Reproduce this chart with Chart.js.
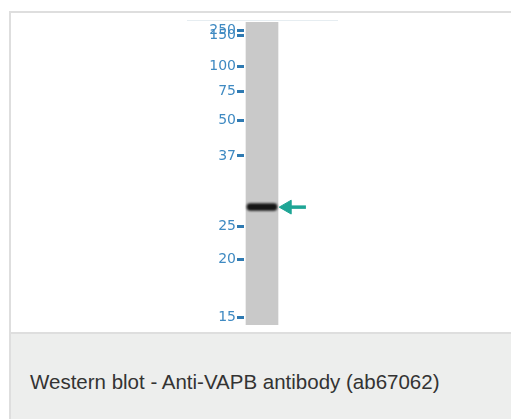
<!DOCTYPE html>
<html>
<head>
<meta charset="utf-8">
<script src="https://cdn.jsdelivr.net/npm/chart.js@4"></script>
<style>
  html, body { margin: 0; padding: 0; background: #fff; width: 511px; height: 419px; overflow: hidden; }
  #card { position: absolute; left: 9px; top: 11px; width: 600px; height: 500px; border: 2px solid #dedede; }
  #blot { height: 319px; background: #fff; border-bottom: 2px solid #dedede; }
  #caption { height: 200px; background: #edeeed; }
  #caption p { margin: 0; position: absolute; left: 19px; top: 357px; font: 20.5px "Liberation Sans", Arial, sans-serif; color: #333; }
  #frame-top { position: absolute; left: 187px; top: 20px; width: 151px; height: 1px; background: #e6edf1; }
  #chart { position: absolute; left: 0; top: 0; }
</style>
</head>
<body>
<div id="card">
  <div id="blot"></div>
  <div id="caption"><p>Western blot - Anti-VAPB antibody (ab67062)</p></div>
</div>
<div id="frame-top"></div>
<canvas id="chart" width="511" height="335"></canvas>
<script>
// marker ladder (kDa) and where each one ran, as relative migration (0 = top of lane, 1 = bottom)
const markerLabels = ["250", "150", "100", "75", "50", "37", "25", "20", "15"];
const markerRf = [0.028, 0.043, 0.147, 0.228, 0.325, 0.442, 0.675, 0.785, 0.974];

// one sample lane, one detected band
const lanes = [1];
const laneRange = [0, 1];
const bandTop = [0.599];
const bandBottom = [0.622];
const bandRf = 0.611;

// arrow pointing at the band (lane units on x)
const arrowHeadX = 1.7;
const arrowTailX = 2.22;

const blurPlugin = {
  id: "blur",
  beforeDatasetDraw: (chart, args) => {
    const ds = chart.data.datasets[args.index];
    chart.ctx.save();
    if (ds.blur) chart.ctx.filter = `blur(${ds.blur}px)`;
  },
  afterDatasetDraw: (chart) => {
    chart.ctx.restore();
  },
};

const get_chart_data = () => {
  return {
    datasets: [
      {
        type: "line",
        label: "arrow",
        data: [
          { x: arrowHeadX, y: bandRf },
          { x: arrowTailX, y: bandRf },
        ],
        borderColor: "#1ea595",
        borderWidth: 3.5,
        pointRadius: [8, 0],
        pointStyle: "triangle",
        rotation: 270,
        pointBackgroundColor: "#1ea595",
        pointBorderColor: "#1ea595",
        pointBorderWidth: 1,
        clip: false,
        blur: 0.5,
        order: 0,
      },
      {
        label: "band",
        data: lanes.map((x, i) => ({ x: x, y: [bandTop[i], bandBottom[i]] })),
        backgroundColor: "#151515",
        borderRadius: 4,
        borderSkipped: false,
        barThickness: 30,
        grouped: false,
        blur: 1.3,
        order: 1,
      },
      {
        label: "lane",
        data: lanes.map((x) => ({ x: x, y: laneRange })),
        backgroundColor: "#c9c9c9",
        barThickness: 32,
        grouped: false,
        blur: 0.5,
        order: 2,
      },
    ],
  };
};

const get_chart_config = (data) => {
  return {
    type: "bar",
    data: data,
    plugins: [blurPlugin],
    options: {
      responsive: false,
      devicePixelRatio: 1,
      animation: false,
      layout: { padding: { top: 22, left: 184, right: 159, bottom: 10 } },
      plugins: { legend: { display: false }, tooltip: { enabled: false } },
      scales: {
        x: {
          type: "linear",
          min: 0.5,
          max: 3.5,
          offset: false,
          display: false,
        },
        y: {
          type: "linear",
          reverse: true,
          min: 0,
          max: 1,
          afterFit: (scale) => {
            scale.width = 60;
          },
          afterBuildTicks: (scale) => {
            scale.ticks = markerRf.map((v) => ({ value: v }));
          },
          border: { display: false },
          grid: {
            drawOnChartArea: false,
            drawTicks: true,
            tickLength: 7,
            tickWidth: 3,
            tickColor: "#2f7ab2",
          },
          ticks: {
            autoSkip: false,
            padding: 1,
            color: "#3f8ac2",
            font: { family: "DejaVu Sans", size: 14 },
            callback: (value, index) => markerLabels[index],
          },
        },
      },
    },
  };
};

new Chart(document.getElementById("chart"), get_chart_config(get_chart_data()));
</script>
</body>
</html>
